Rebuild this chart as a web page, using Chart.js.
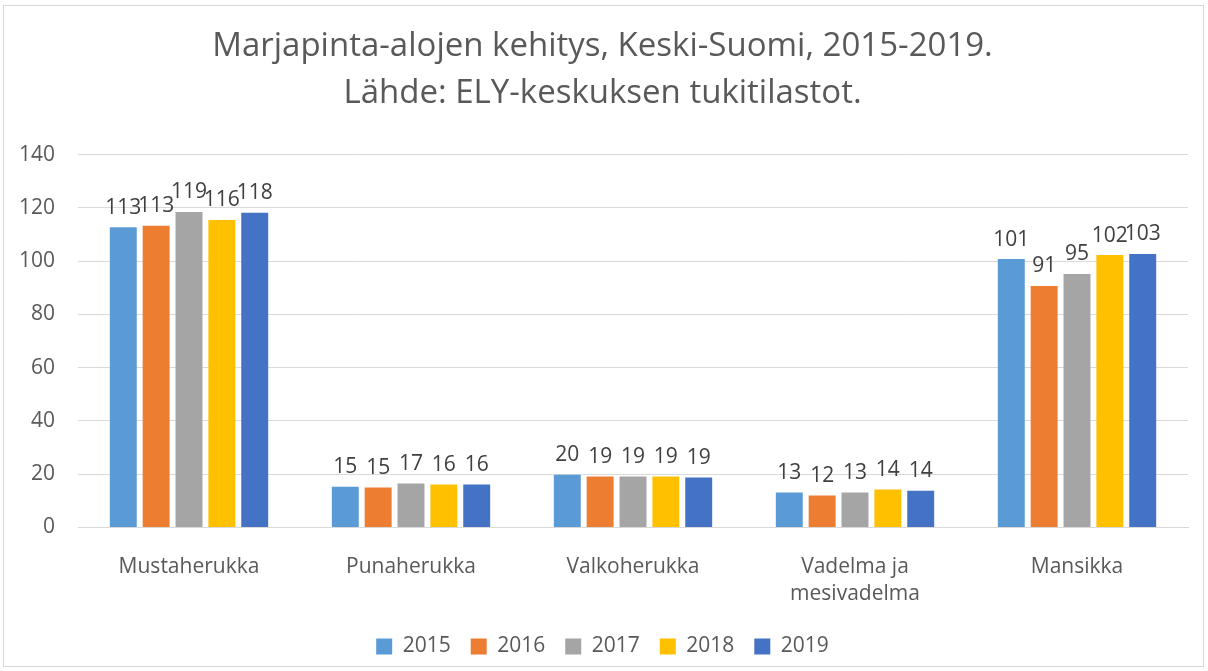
<!DOCTYPE html>
<html>
<head>
<meta charset="utf-8">
<script src="https://cdn.jsdelivr.net/npm/chart.js@4"></script>
<style>
  html, body { margin: 0; padding: 0; background: #fff; }
  #wrap { width: 1208px; height: 671px; }
</style>
</head>
<body>
<div id="wrap"><canvas id="berryChart" width="1208" height="671"></canvas></div>
<script>
const categories = ['Mustaherukka', 'Punaherukka', 'Valkoherukka', ['Vadelma ja', 'mesivadelma'], 'Mansikka'];
const years = ['2015', '2016', '2017', '2018', '2019'];
const values2015 = [112.8, 15.3, 19.8, 13.1, 100.8];
const values2016 = [113.3, 15.0, 19.1, 12.0, 90.7];
const values2017 = [118.5, 16.5, 19.1, 13.1, 95.2];
const values2018 = [115.5, 16.1, 19.1, 14.2, 102.3];
const values2019 = [118.2, 16.1, 18.7, 13.8, 102.7];
const yTicks = [0, 20, 40, 60, 80, 100, 120, 140];
const colors = ['#5B9BD5', '#ED7D31', '#A5A5A5', '#FFC000', '#4472C4'];

const seriesValues = [values2015, values2016, values2017, values2018, values2019];
const fontFamily = '"Open Sans", sans-serif';

// frame around the whole chart
const framePlugin = {
    id: 'frame',
    beforeDraw(chart) {
        const ctx = chart.ctx;
        ctx.save();
        ctx.fillStyle = '#ffffff';
        ctx.fillRect(0, 0, chart.width, chart.height);
        ctx.strokeStyle = '#d9d9d9';
        ctx.lineWidth = 1;
        ctx.strokeRect(3.5, 5.5, chart.width - 8, chart.height - 10);
        ctx.restore();
    }
};

// value labels above bars
const labelPlugin = {
    id: 'barLabels',
    afterDatasetsDraw(chart) {
        const ctx = chart.ctx;
        ctx.save();
        ctx.font = '21px ' + fontFamily;
        ctx.fillStyle = '#404040';
        ctx.textAlign = 'center';
        ctx.textBaseline = 'bottom';
        chart.data.datasets.forEach((ds, i) => {
            chart.getDatasetMeta(i).data.forEach((bar, j) => {
                ctx.fillText(Math.round(ds.data[j]), bar.x, bar.y - 9);
            });
        });
        ctx.restore();
    }
};

new Chart(document.getElementById('berryChart').getContext('2d'), {
    type: 'bar',
    data: {
        labels: categories,
        datasets: years.map((y, i) => ({
            label: y,
            data: seriesValues[i],
            backgroundColor: colors[i],
            borderWidth: 0,
            categoryPercentage: 0.74,
            barPercentage: 0.82
        }))
    },
    options: {
        responsive: false,
        animation: false,
        layout: {
            padding: { left: 17, right: 20, top: 23, bottom: 4 }
        },
        plugins: {
            title: {
                display: true,
                text: ['Marjapinta-alojen kehitys, Keski-Suomi, 2015-2019.', 'Lähde: ELY-keskuksen tukitilastot.'],
                color: '#595959',
                font: { family: fontFamily, size: 33, weight: 'normal', lineHeight: 1.42 },
                padding: { top: 0, bottom: 38 }
            },
            legend: {
                position: 'bottom',
                labels: {
                    color: '#595959',
                    font: { family: fontFamily, size: 21 },
                    boxWidth: 16,
                    boxHeight: 16,
                    padding: 20
                }
            },
            tooltip: { enabled: false }
        },
        scales: {
            x: {
                grid: { display: false },
                border: { color: '#d9d9d9', width: 1 },
                ticks: {
                    color: '#595959',
                    font: { family: fontFamily, size: 21, lineHeight: 1.3 },
                    padding: 18,
                    maxRotation: 0
                },
                afterFit(scale) {
                    scale.height -= 10;
                }
            },
            y: {
                min: 0,
                max: 140,
                afterBuildTicks(axis) {
                    axis.ticks = yTicks.map(v => ({ value: v }));
                },
                afterFit(scale) {
                    scale.width = 61;
                },
                grid: { color: '#d9d9d9', lineWidth: 1, drawTicks: false },
                border: { display: false },
                ticks: {
                    color: '#595959',
                    font: { family: fontFamily, size: 21 },
                    padding: 23
                }
            }
        }
    },
    plugins: [framePlugin, labelPlugin]
});
</script>
</body>
</html>
